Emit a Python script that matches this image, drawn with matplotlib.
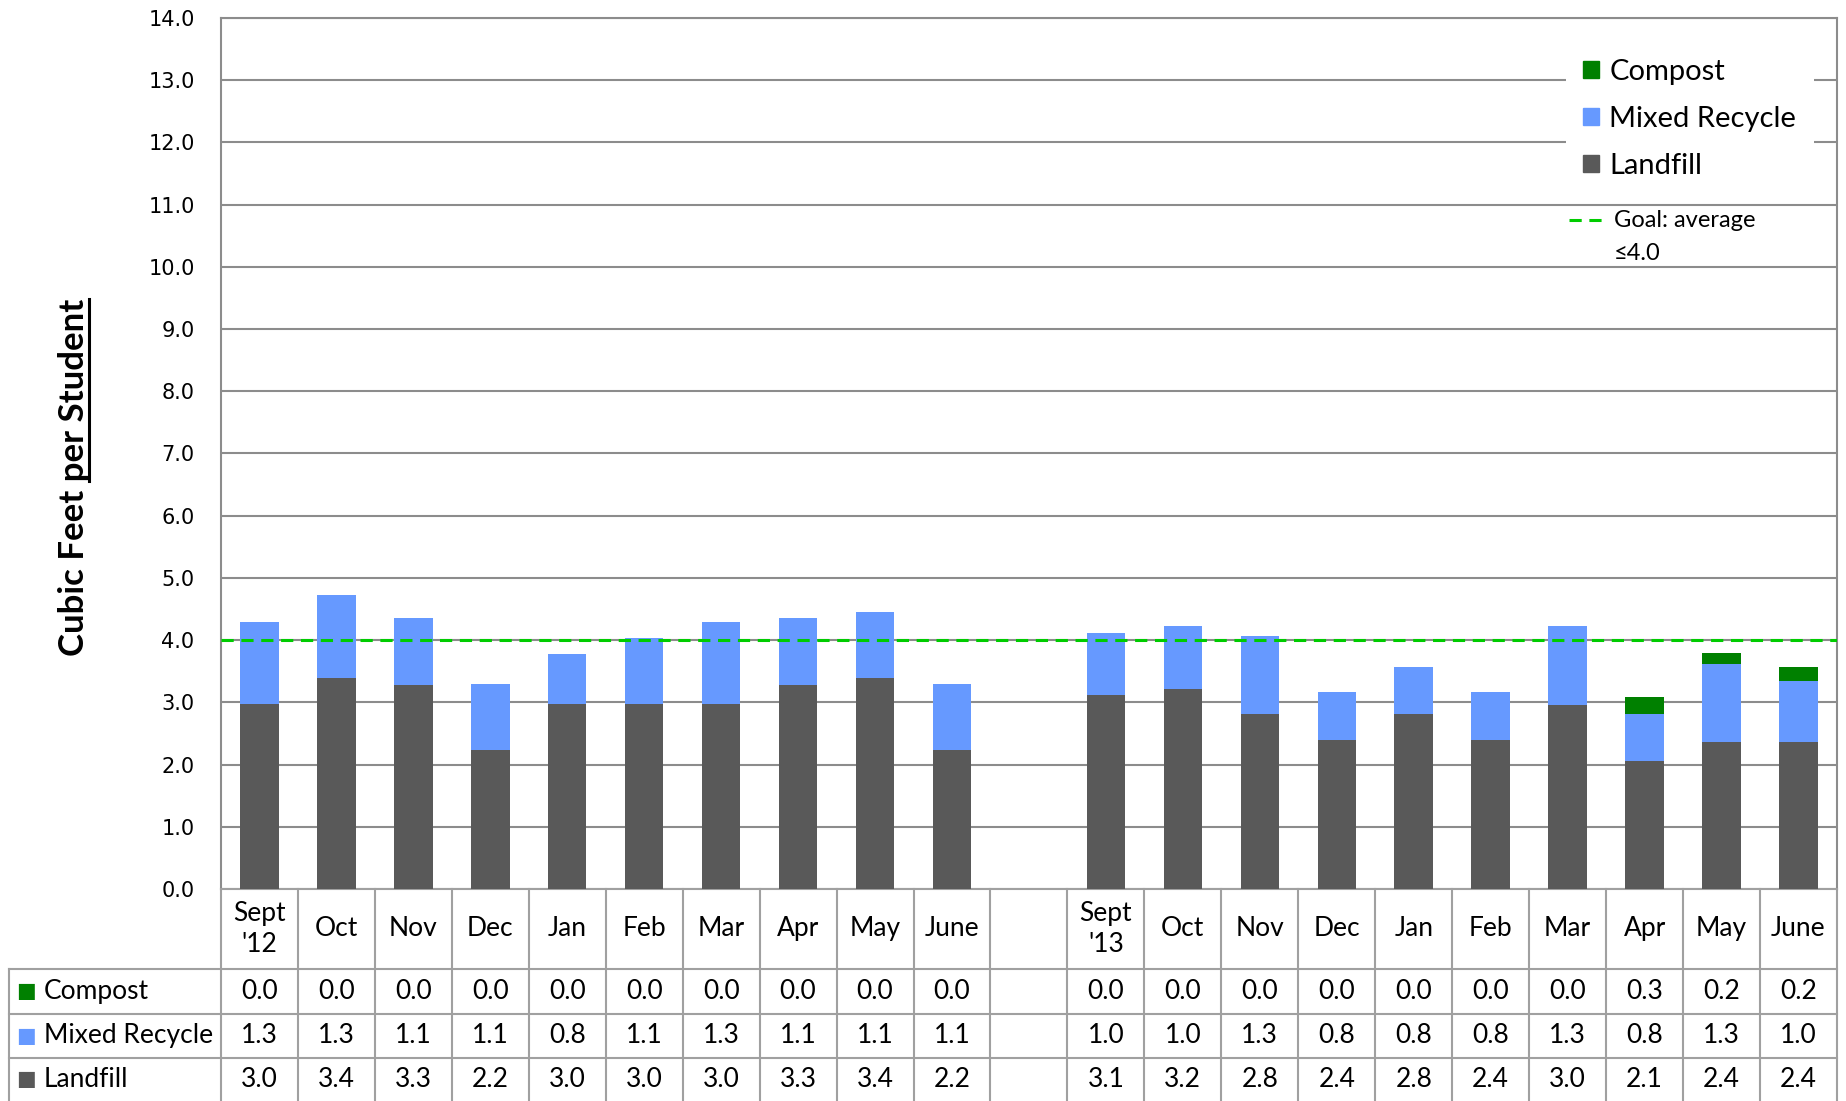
import matplotlib
matplotlib.use("Agg")
import matplotlib.pyplot as plt
import matplotlib.transforms as mtransforms
from matplotlib.patches import Patch
from matplotlib.lines import Line2D

plt.rcParams['font.family'] = ['Lato', 'DejaVu Sans']

# data (table shows them rounded to 0.1)
months_12 = ["Sept\n'12", "Oct", "Nov", "Dec", "Jan", "Feb", "Mar", "Apr", "May", "June"]
months_13 = ["Sept\n'13", "Oct", "Nov", "Dec", "Jan", "Feb", "Mar", "Apr", "May", "June"]
landfill_12 = [2.97, 3.39, 3.28, 2.23, 2.97, 2.97, 2.97, 3.28, 3.39, 2.23]
recycle_12 = [1.32, 1.33, 1.07, 1.06, 0.80, 1.06, 1.32, 1.07, 1.06, 1.06]
compost_12 = [0.0, 0.0, 0.0, 0.0, 0.0, 0.0, 0.0, 0.0, 0.0, 0.0]
landfill_13 = [3.11, 3.21, 2.81, 2.40, 2.81, 2.40, 2.96, 2.06, 2.36, 2.36]
recycle_13 = [1.00, 1.01, 1.26, 0.76, 0.76, 0.76, 1.26, 0.76, 1.26, 0.99]
compost_13 = [0.0, 0.0, 0.0, 0.0, 0.0, 0.0, 0.0, 0.26, 0.18, 0.21]
goal = 4.0

c_land = '#595959'
c_rec = '#6699ff'
c_comp = '#008000'
c_goal = '#00cc00'
c_grid = '#8c8c8c'
c_tab = '#a0a0a0'

# one blank column between the two school years
months = months_12 + [''] + months_13
xpos = list(range(10)) + list(range(11, 21))
landfill = landfill_12 + landfill_13
recycle = recycle_12 + recycle_13
compost = compost_12 + compost_13

fig = plt.figure(figsize=(18.46, 11.01), dpi=100)
ax = fig.add_axes([0.1197, 0.1926, 0.8754, 0.7911])

w = 0.5
ax.bar(xpos, landfill, width=w, color=c_land, lw=0, zorder=3)
ax.bar(xpos, recycle, width=w, bottom=landfill, color=c_rec, lw=0, zorder=3)
bott = [a + b for a, b in zip(landfill, recycle)]
ax.bar(xpos, compost, width=w, bottom=bott, color=c_comp, lw=0, zorder=3)
ax.axhline(goal, color=c_goal, lw=2.2, dashes=(4, 2.5), zorder=4)

ax.set_xlim(-0.5, 20.5)
ax.set_ylim(0, 14)
ax.set_yticks(range(0, 15))
ax.set_yticklabels(['%.1f' % v for v in range(0, 15)], fontsize=15, family='DejaVu Sans')
ax.set_xticks([])
ax.tick_params(axis='y', length=0, pad=19)
ax.yaxis.grid(True, color=c_grid, lw=1.5)
ax.set_axisbelow(True)
for s in ['left', 'top', 'right']:
    ax.spines[s].set_color(c_grid)
    ax.spines[s].set_linewidth(1.5)
ax.spines['bottom'].set_color(c_tab)
ax.spines['bottom'].set_linewidth(1.5)

# legend
h1 = [Patch(color=c_comp, label='Compost'),
      Patch(color=c_rec, label='Mixed Recycle'),
      Patch(color=c_land, label='Landfill')]
leg = ax.legend(handles=h1, loc='upper left', bbox_to_anchor=(0.823, 0.99), fontsize=21,
                frameon=True, facecolor='white', edgecolor='none', framealpha=1,
                handlelength=0.55, handleheight=0.55, handletextpad=0.35, labelspacing=0.72,
                borderpad=0.6, fancybox=False)
leg.set_zorder(5)

# goal key, placed like the Excel legend entry
ax.plot([0.834, 0.8564], [0.768, 0.768], color=c_goal, lw=2.2, dashes=(4, 2.5),
        transform=ax.transAxes, clip_on=False)
ax.text(0.862, 0.768, 'Goal: average', transform=ax.transAxes, fontsize=17, va='center', ha='left')
ax.text(0.862, 0.730, '\u22644.0', transform=ax.transAxes, fontsize=17, va='center', ha='left')

# data table under the chart
tb = mtransforms.blended_transform_factory(ax.transData, ax.transAxes)
rows_y = [0, -0.0918, -0.1435, -0.194, -0.2434, -0.3]
lab_left = -0.1312
for y in rows_y[1:4]:
    ax.plot([lab_left, 1], [y, y], color=c_tab, lw=1.5, transform=ax.transAxes, clip_on=False)
for xv in [i - 0.5 for i in range(22)]:
    ax.plot([xv, xv], [0, rows_y[-1]], color=c_tab, lw=1.5, transform=tb, clip_on=False)
ax.plot([lab_left, lab_left], [rows_y[1], rows_y[-1]], color=c_tab, lw=1.5,
        transform=ax.transAxes, clip_on=False)

for x, m in zip(range(21), months):
    ax.text(x, -0.0459, m, transform=tb, ha='center', va='center', fontsize=19, linespacing=1.3)

row_names = ['Compost', 'Mixed Recycle', 'Landfill']
row_cols = [c_comp, c_rec, c_land]
row_vals = [compost, recycle, landfill]
row_c = [-0.1177, -0.1688, -0.2187]
for name, col, vals, yc in zip(row_names, row_cols, row_vals, row_c):
    ax.text(lab_left + 0.0045, yc, '\u25a0', transform=ax.transAxes, ha='left', va='center',
            fontsize=15, color=col, family='DejaVu Sans')
    ax.text(lab_left + 0.0215, yc, name, transform=ax.transAxes, ha='left', va='center', fontsize=19)
    for x, v in zip(xpos, vals):
        ax.text(x, yc, '%.1f' % v, transform=tb, ha='center', va='center', fontsize=19)

# y label, "per Student" underlined
lab_x = 84 / 1846
lab_y0 = 1 - 656 / 1101
ylab = fig.text(lab_x, lab_y0, 'Cubic Feet per Student', rotation=90, rotation_mode='anchor',
                ha='left', va='baseline', fontsize=25, fontweight='bold')
fig.canvas.draw()
r = fig.canvas.get_renderer()
bb = ylab.get_window_extent(r)
tmp = fig.text(0, 0, 'per Student', fontsize=25, fontweight='bold')
wl = tmp.get_window_extent(r).width
tmp.remove()
fh = fig.bbox.height
fw = fig.bbox.width
ux = lab_x + 5 / fw
ytop = bb.y1 / fh
fig.add_artist(Line2D([ux, ux], [ytop - wl / fh, ytop], color='black', lw=2.2, transform=fig.transFigure))

fig.savefig('out.png', dpi=100)
